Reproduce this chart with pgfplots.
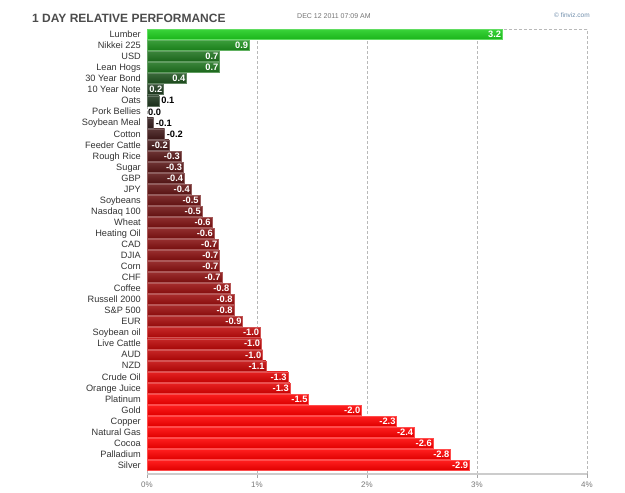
\documentclass[border=0pt]{standalone}
\usepackage{pgfplots}
\pgfplotsset{compat=1.18}
\usepackage{fontspec}
\setmainfont{Liberation Sans}
\definecolor{nb}{RGB}{43,30,30}
\definecolor{ng}{RGB}{30,43,30}
\definecolor{gb}{RGB}{30,205,30}
\definecolor{rb}{RGB}{255,0,0}
\definecolor{lab}{RGB}{51,51,51}
\definecolor{tickc}{RGB}{120,120,120}
\definecolor{gridc}{RGB}{185,185,185}
\definecolor{fvz}{RGB}{110,140,170}
% bar with label inside: #1 y, #2 length, #3 colour percent, #4 label, #5 base colour, #6 dark colour
\newcommand{\IB}[6]{\addplot[xbar,bar width=10pt,bar shift=0pt,draw=#5!#3!#6!70!white,line width=0.5pt,
  top color=#5!#3!#6!88!white,bottom color=#5!#3!#6!88!black,
  nodes near coords={#4},nodes near coords align={anchor=east},
  every node near coord/.append style={text=white,font=\bfseries\fontsize{9.3}{10}\selectfont,inner sep=1pt}]
  coordinates {(#2,#1)};}
\newcommand{\OB}[6]{\addplot[xbar,bar width=10pt,bar shift=0pt,draw=#5!#3!#6!70!white,line width=0.5pt,
  top color=#5!#3!#6!88!white,bottom color=#5!#3!#6!88!black,
  nodes near coords={#4},nodes near coords align={anchor=west},
  every node near coord/.append style={text=black,font=\bfseries\fontsize{9.3}{10}\selectfont,inner sep=2pt}]
  coordinates {(#2,#1)};}
\begin{document}
\begin{tikzpicture}
\useasboundingbox (0,0) rectangle (625pt,493pt);
\node[anchor=base west,inner sep=0pt,text=black!70,font=\bfseries\fontsize{12}{14}\selectfont] at (32pt,470.7pt) {1 DAY RELATIVE PERFORMANCE};
\node[anchor=base west,inner sep=0pt,text=black!55,font=\fontsize{7}{8}\selectfont] at (297pt,474.5pt) {DEC 12 2011 07:09 AM};
\node[anchor=base west,inner sep=0pt,text=fvz,font=\fontsize{6.5}{8}\selectfont] at (554pt,475pt) {\copyright\ finviz.com};
\begin{axis}[
  at={(147pt,19pt)}, anchor=south west,
  scale only axis, width=440pt, height=445pt,
  xmin=0, xmax=4, ymin=-0.79, ymax=39.5,
  axis x line*=bottom, axis y line*=left,
  y axis line style={draw=none},
  x axis line style={draw=black!20,line width=1.2pt},
  xtick={0,1,2,3,4}, xticklabels={0\%,1\%,2\%,3\%,4\%},
  xtick style={draw=black!35,line width=0.6pt},
  major tick length=4pt, tick align=outside,
  xticklabel style={font=\fontsize{8}{9}\selectfont,text=tickc},
  ytick={0,...,39},
  ytick style={draw=none},
  yticklabels={Silver,Palladium,Cocoa,Natural Gas,Copper,Gold,Platinum,Orange Juice,Crude Oil,NZD,AUD,Live Cattle,Soybean oil,EUR,S\&P 500,Russell 2000,Coffee,CHF,Corn,DJIA,CAD,Heating Oil,Wheat,Nasdaq 100,Soybeans,JPY,GBP,Sugar,Rough Rice,Feeder Cattle,Cotton,Soybean Meal,Pork Bellies,Oats,10 Year Note,30 Year Bond,Lean Hogs,USD,Nikkei 225,Lumber},
  yticklabel style={font=\fontsize{9.2}{10}\selectfont,text=lab,text height=6.6pt,text depth=0.4pt,inner sep=2pt},
  xmajorgrids, grid style={gridc,dash pattern=on 3pt off 2pt,line width=0.6pt},
  clip=false,
]
\draw[gridc,dash pattern=on 3pt off 2pt,line width=0.6pt] (axis cs:3.2,39.5) -- (axis cs:4,39.5);
\IB{0}{2.93}{100}{-2.9}{rb}{nb}
\IB{1}{2.76}{100}{-2.8}{rb}{nb}
\IB{2}{2.60}{100}{-2.6}{rb}{nb}
\IB{3}{2.43}{100}{-2.4}{rb}{nb}
\IB{4}{2.27}{100}{-2.3}{rb}{nb}
\IB{5}{1.95}{100}{-2.0}{rb}{nb}
\IB{6}{1.47}{98}{-1.5}{rb}{nb}
\IB{7}{1.30}{87}{-1.3}{rb}{nb}
\IB{8}{1.28}{85}{-1.3}{rb}{nb}
\IB{9}{1.08}{72}{-1.1}{rb}{nb}
\IB{10}{1.05}{70}{-1.0}{rb}{nb}
\IB{11}{1.04}{69}{-1.0}{rb}{nb}
\IB{12}{1.03}{69}{-1.0}{rb}{nb}
\IB{13}{0.87}{58}{-0.9}{rb}{nb}
\IB{14}{0.79}{53}{-0.8}{rb}{nb}
\IB{15}{0.79}{53}{-0.8}{rb}{nb}
\IB{16}{0.76}{51}{-0.8}{rb}{nb}
\IB{17}{0.68}{45}{-0.7}{rb}{nb}
\IB{18}{0.66}{44}{-0.7}{rb}{nb}
\IB{19}{0.66}{44}{-0.7}{rb}{nb}
\IB{20}{0.65}{43}{-0.7}{rb}{nb}
\IB{21}{0.61}{41}{-0.6}{rb}{nb}
\IB{22}{0.59}{39}{-0.6}{rb}{nb}
\IB{23}{0.50}{33}{-0.5}{rb}{nb}
\IB{24}{0.48}{32}{-0.5}{rb}{nb}
\IB{25}{0.40}{27}{-0.4}{rb}{nb}
\IB{26}{0.34}{23}{-0.4}{rb}{nb}
\IB{27}{0.33}{22}{-0.3}{rb}{nb}
\IB{28}{0.31}{21}{-0.3}{rb}{nb}
\IB{29}{0.20}{13}{-0.2}{rb}{nb}
\OB{30}{0.16}{11}{-0.2}{rb}{nb}
\OB{31}{0.06}{4}{-0.1}{rb}{nb}
\addplot[xbar,bar width=10pt,bar shift=0pt,draw=none,fill=none,
  nodes near coords={0.0},nodes near coords align={anchor=west},
  every node near coord/.append style={text=black,font=\bfseries\fontsize{9.3}{10}\selectfont,inner sep=1pt}]
  coordinates {(0,32)};
\OB{33}{0.11}{7}{0.1}{gb}{ng}
\IB{34}{0.15}{10}{0.2}{gb}{ng}
\IB{35}{0.36}{24}{0.4}{gb}{ng}
\IB{36}{0.66}{44}{0.7}{gb}{ng}
\IB{37}{0.66}{44}{0.7}{gb}{ng}
\IB{38}{0.93}{62}{0.9}{gb}{ng}
\IB{39}{3.23}{100}{3.2}{gb}{ng}
\end{axis}
\end{tikzpicture}
\end{document}
